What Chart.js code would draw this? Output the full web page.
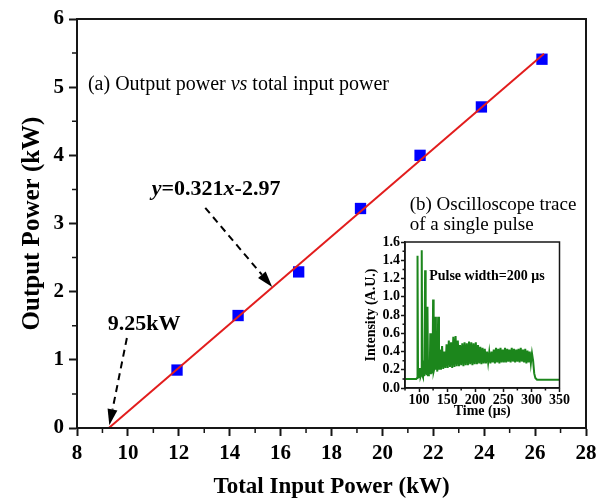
<!DOCTYPE html>
<html>
<head>
<meta charset="utf-8">
<script src="https://cdn.jsdelivr.net/npm/chart.js@4.4.1/dist/chart.umd.min.js"></script>
<style>
  html, body { margin: 0; padding: 0; background: #fff; }
  #wrap { position: relative; width: 606px; height: 501px; }
  #main { position: absolute; left: 0; top: 0; }
  #inset { position: absolute; left: 345px; top: 224px; }
</style>
</head>
<body>
<div id="wrap">
  <canvas id="main" width="606" height="501"></canvas>
  <canvas id="inset" width="225" height="200"></canvas>
</div>
<script>
// (a) output power vs total input power
const inputPower = [11.93, 14.33, 16.71, 19.14, 21.48, 23.89, 26.27];
const outputPower = [0.85, 1.65, 2.29, 3.22, 4.00, 4.71, 5.41];
// linear fit y=0.321x-2.97, end points
const fitX = [9.25, 26.35];
const fitY = [0, 5.49];
const xTicks = [8, 10, 12, 14, 16, 18, 20, 22, 24, 26, 28];
const xMinor = [9, 11, 13, 15, 17, 19, 21, 23, 25, 27];
const yTicks = [0, 1, 2, 3, 4, 5, 6];
const yMinor = [0.5, 1.5, 2.5, 3.5, 4.5, 5.5];

// (b) oscilloscope trace
const traceTime = [75, 80, 85, 90, 95, 96.5, 97.3, 98.2, 100, 101.5, 102.5, 104, 104.8, 105.8, 107, 108.5, 109.5,
  110.8, 111.8, 113, 114, 115, 116, 117.5, 119, 120, 121, 122.5, 124, 125, 126, 127.5, 128.8, 130, 131, 132.5,
  134, 135.5,
  137, 139, 141, 143, 145, 147, 149, 151, 153, 155, 157, 159, 161, 163, 165, 167, 169, 171, 173, 175, 177, 179,
  181, 183, 185, 187, 189, 191, 193, 195, 197, 199, 201, 203, 205, 207, 209, 211, 213, 215, 217, 219, 221, 223,
  225, 227, 229, 231, 233, 235, 237, 239, 241, 243, 245, 247, 249, 251, 253, 255, 257, 259, 261, 263, 265, 267,
  269, 271, 273, 275, 277, 279, 281, 283, 285, 287, 289, 291, 293, 295, 297, 299,
  301, 303, 305, 307, 310, 320, 335, 350];
const traceValue = [0.10, 0.10, 0.10, 0.10, 0.10, 0.11, 1.45, 0.14, 0.12, 0.22, 0.12, 0.15, 1.51, 0.14, 0.12, 0.30, 0.13,
  1.29, 0.15, 0.20, 0.14, 0.89, 0.14, 0.25, 0.15, 0.60, 0.15, 0.30, 0.16, 0.97, 0.18, 0.22, 0.78, 0.20, 0.35, 0.18,
  0.78, 0.20,
  0.42, 0.20, 0.46, 0.21, 0.40, 0.22, 0.48, 0.22, 0.52, 0.23, 0.50, 0.22, 0.56, 0.23, 0.57, 0.24, 0.52, 0.24, 0.47, 0.25, 0.49, 0.24,
  0.50, 0.25, 0.49, 0.25, 0.51, 0.26, 0.50, 0.25, 0.49, 0.26, 0.50, 0.26, 0.47, 0.27, 0.45, 0.26, 0.44, 0.27, 0.43, 0.27, 0.40, 0.28,
  0.39, 0.27, 0.40, 0.28, 0.42, 0.27, 0.44, 0.28, 0.43, 0.27, 0.44, 0.28, 0.42, 0.28, 0.44, 0.28, 0.43, 0.29, 0.42, 0.28, 0.44, 0.29,
  0.43, 0.28, 0.42, 0.29, 0.43, 0.28, 0.44, 0.29, 0.42, 0.28, 0.43, 0.27, 0.41, 0.28, 0.40, 0.27,
  0.38, 0.30, 0.16, 0.11, 0.09, 0.09, 0.09, 0.09];
const tTicks = [100, 150, 200, 250, 300, 350];
const tMinor = [75, 125, 175, 225, 275, 325];
const iTicks = [0, 0.2, 0.4, 0.6, 0.8, 1.0, 1.2, 1.4, 1.6];
const iMinor = [0.1, 0.3, 0.5, 0.7, 0.9, 1.1, 1.3, 1.5];

const SERIF = '"Liberation Serif", "Times New Roman", serif';
const INK = '#161616';

function setTicks(values) {
  return function (scale) { scale.ticks = values.map(v => ({ value: v })); };
}

function drawMinor(ctx, chart, xs, ys, len) {
  const a = chart.chartArea;
  ctx.save();
  ctx.strokeStyle = INK;
  ctx.lineWidth = 1.5;
  ctx.beginPath();
  xs.forEach(v => {
    const px = chart.scales.x.getPixelForValue(v);
    ctx.moveTo(px, a.bottom); ctx.lineTo(px, a.bottom + len);
  });
  ys.forEach(v => {
    const py = chart.scales.y.getPixelForValue(v);
    ctx.moveTo(a.left, py); ctx.lineTo(a.left - len, py);
  });
  ctx.stroke();
  ctx.restore();
}

function drawFrame(ctx, chart, w) {
  const a = chart.chartArea;
  ctx.save();
  ctx.strokeStyle = INK;
  ctx.lineWidth = w;
  ctx.strokeRect(a.left, a.top, a.right - a.left, a.bottom - a.top);
  ctx.restore();
}

function drawRuns(ctx, x, y, runs) {
  runs.forEach(([text, font]) => {
    ctx.font = font;
    ctx.fillText(text, x, y);
    x += ctx.measureText(text).width;
  });
}

function drawArrow(ctx, x1, y1, x2, y2) {
  const ang = Math.atan2(y2 - y1, x2 - x1);
  const head = 16, half = 5;
  const bx = x2 - head * Math.cos(ang), by = y2 - head * Math.sin(ang);
  ctx.save();
  ctx.strokeStyle = '#000';
  ctx.fillStyle = '#000';
  ctx.lineWidth = 2;
  ctx.setLineDash([7, 5]);
  ctx.beginPath(); ctx.moveTo(x1, y1); ctx.lineTo(bx, by); ctx.stroke();
  ctx.setLineDash([]);
  ctx.beginPath();
  ctx.moveTo(x2, y2);
  ctx.lineTo(bx + half * Math.sin(ang), by - half * Math.cos(ang));
  ctx.lineTo(bx - half * Math.sin(ang), by + half * Math.cos(ang));
  ctx.closePath(); ctx.fill();
  ctx.restore();
}

// annotation anchors, in data units of the main plot
const arrows = [
  { from: [13.04, 3.23], to: [15.67, 2.07] },
  { from: [9.96, 1.32], to: [9.27, 0.04] }
];

const mainDecor = {
  id: 'mainDecor',
  afterDraw(chart) {
    const ctx = chart.ctx, sx = chart.scales.x, sy = chart.scales.y;
    drawFrame(ctx, chart, 2);
    drawMinor(ctx, chart, xMinor, yMinor, 5);
    arrows.forEach(a => drawArrow(ctx, sx.getPixelForValue(a.from[0]), sy.getPixelForValue(a.from[1]),
      sx.getPixelForValue(a.to[0]), sy.getPixelForValue(a.to[1])));
    ctx.save();
    ctx.fillStyle = '#000';
    ctx.textBaseline = 'alphabetic';
    drawRuns(ctx, sx.getPixelForValue(8.43), sy.getPixelForValue(4.96), [
      ['(a) Output power ', '20px ' + SERIF],
      ['vs', 'italic 20px ' + SERIF],
      [' total input power', '20px ' + SERIF]
    ]);
    drawRuns(ctx, sx.getPixelForValue(10.94), sy.getPixelForValue(3.42), [
      ['y', 'italic bold 22px ' + SERIF],
      ['=0.321', 'bold 22px ' + SERIF],
      ['x', 'italic bold 22px ' + SERIF],
      ['-2.97', 'bold 22px ' + SERIF]
    ]);
    drawRuns(ctx, sx.getPixelForValue(9.21), sy.getPixelForValue(1.44), [['9.25kW', 'bold 22px ' + SERIF]]);
    drawRuns(ctx, sx.getPixelForValue(21.07), sy.getPixelForValue(3.20), [['(b) Oscilloscope trace', '19px ' + SERIF]]);
    drawRuns(ctx, sx.getPixelForValue(21.07), sy.getPixelForValue(2.90), [['of a single pulse', '19px ' + SERIF]]);
    ctx.restore();
  }
};

const insetDecor = {
  id: 'insetDecor',
  afterDraw(chart) {
    const ctx = chart.ctx;
    drawFrame(ctx, chart, 1.5);
    drawMinor(ctx, chart, tMinor, iMinor, 2.5);
    ctx.save();
    ctx.fillStyle = '#000';
    drawRuns(ctx, chart.scales.x.getPixelForValue(118), chart.scales.y.getPixelForValue(1.18),
      [['Pulse width=200 \u03bcs', 'bold 14px ' + SERIF]]);
    ctx.restore();
  }
};

function axisStyle(size) {
  return {
    grid: { drawOnChartArea: false, tickLength: size > 16 ? 8 : 4, tickColor: INK, tickWidth: size > 16 ? 2 : 1.5 },
    border: { color: INK, width: size > 16 ? 2 : 1.5 },
  };
}

new Chart(document.getElementById('main'), {
  type: 'scatter',
  data: {
    datasets: [
      {
        type: 'line',
        data: fitX.map((x, i) => ({ x: x, y: fitY[i] })),
        borderColor: '#e21d1d',
        borderWidth: 2,
        pointRadius: 0,
        order: 0
      },
      {
        data: inputPower.map((x, i) => ({ x: x, y: outputPower[i] })),
        pointStyle: 'rect',
        pointRadius: 8,
        backgroundColor: '#0000ff',
        borderColor: '#0000ff',
        borderWidth: 0,
        order: 1
      }
    ]
  },
  options: {
    responsive: false,
    animation: false,
    layout: { padding: { left: 0, top: 19, right: 20, bottom: 0 } },
    plugins: { legend: { display: false }, tooltip: { enabled: false } },
    scales: {
      x: {
        type: 'linear', min: 8, max: 28,
        afterBuildTicks: setTicks(xTicks),
        afterFit(s) { s.height = 73; },
        ...axisStyle(21),
        ticks: { color: '#000', padding: 5, autoSkip: false, font: { family: SERIF, size: 21, weight: 'bold' } },
        title: { display: true, text: 'Total Input Power (kW)', color: '#000', padding: { top: 0, bottom: 0 },
          font: { family: SERIF, size: 23, weight: 'bold' } }
      },
      y: {
        type: 'linear', min: 0, max: 6,
        afterBuildTicks: setTicks(yTicks),
        afterFit(s) { s.width = 77; },
        ...axisStyle(21),
        ticks: { color: '#000', padding: 5, autoSkip: false, font: { family: SERIF, size: 21, weight: 'bold' } },
        title: { display: true, text: 'Output Power (kW)', color: '#000', padding: { top: 18, bottom: 0 },
          font: { family: SERIF, size: 25, weight: 'bold' } }
      }
    }
  },
  plugins: [mainDecor]
});

new Chart(document.getElementById('inset'), {
  type: 'line',
  data: {
    datasets: [{
      data: traceTime.map((t, i) => ({ x: t, y: traceValue[i] })),
      borderColor: '#1c861c',
      borderWidth: 2,
      pointRadius: 0,
      tension: 0
    }]
  },
  options: {
    responsive: false,
    animation: false,
    layout: { padding: { left: 0, top: 18, right: 10, bottom: 0 } },
    plugins: { legend: { display: false }, tooltip: { enabled: false } },
    scales: {
      x: {
        type: 'linear', min: 75, max: 350,
        afterBuildTicks: setTicks(tTicks),
        afterFit(s) { s.height = 36; },
        ...axisStyle(14),
        ticks: { color: '#000', padding: 0, autoSkip: false, maxRotation: 0, font: { family: SERIF, size: 14, weight: 'bold' } },
        title: { display: true, text: 'Time (\u03bcs)', color: '#000', padding: { top: 0, bottom: 4 },
          font: { family: SERIF, size: 14, weight: 'bold' } }
      },
      y: {
        type: 'linear', min: 0, max: 1.6,
        afterBuildTicks: setTicks(iTicks),
        afterFit(s) { s.width = 60; },
        ...axisStyle(14),
        ticks: { color: '#000', padding: 1, autoSkip: false, font: { family: SERIF, size: 14, weight: 'bold' },
          callback: v => v.toFixed(1) },
        title: { display: true, text: 'Intensity (A.U.)', color: '#000', padding: { top: 18, bottom: 0 },
          font: { family: SERIF, size: 14, weight: 'bold' } }
      }
    }
  },
  plugins: [insetDecor]
});
</script>
</body>
</html>
